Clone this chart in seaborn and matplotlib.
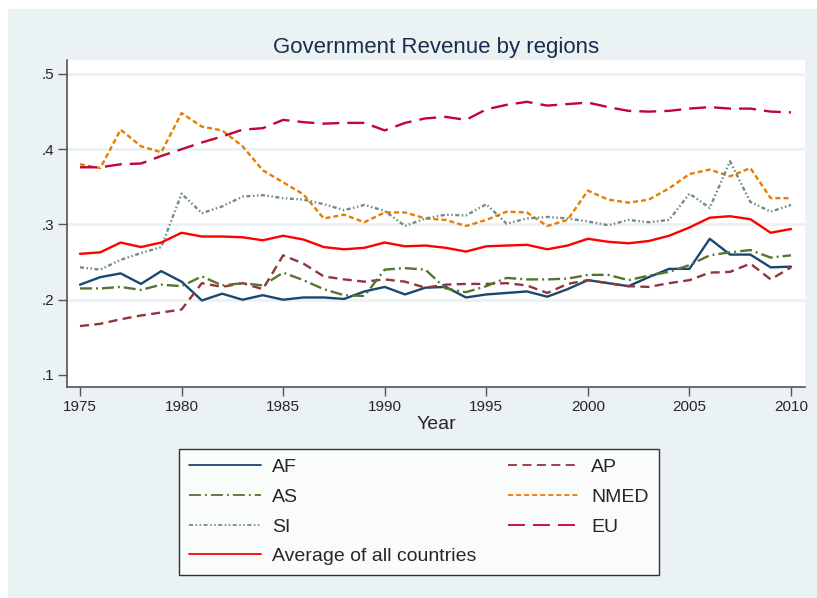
import matplotlib
matplotlib.use("Agg")
import matplotlib.pyplot as plt
from matplotlib.patches import Rectangle
from matplotlib.lines import Line2D
import seaborn as sns
import pandas as pd

# Data
years = list(range(1975, 2011))

af = [0.220, 0.230, 0.235, 0.221, 0.238, 0.224, 0.199, 0.208, 0.200, 0.206,
      0.200, 0.203, 0.203, 0.201, 0.211, 0.217, 0.207, 0.216, 0.217, 0.203,
      0.207, 0.209, 0.211, 0.204, 0.214, 0.226, 0.222, 0.218, 0.230, 0.241,
      0.241, 0.281, 0.260, 0.260, 0.243, 0.244]
ap = [0.165, 0.168, 0.174, 0.179, 0.183, 0.187, 0.222, 0.217, 0.222, 0.214,
      0.259, 0.248, 0.231, 0.227, 0.224, 0.227, 0.224, 0.216, 0.220, 0.221,
      0.221, 0.222, 0.219, 0.209, 0.221, 0.226, 0.222, 0.218, 0.217, 0.222,
      0.226, 0.236, 0.237, 0.248, 0.227, 0.243]
as_ = [0.215, 0.215, 0.217, 0.213, 0.220, 0.218, 0.231, 0.219, 0.222, 0.219,
       0.236, 0.226, 0.214, 0.206, 0.205, 0.240, 0.242, 0.240, 0.215, 0.210,
       0.218, 0.229, 0.227, 0.227, 0.228, 0.233, 0.233, 0.226, 0.232, 0.237,
       0.246, 0.259, 0.263, 0.266, 0.256, 0.259]
nmed = [0.380, 0.375, 0.426, 0.404, 0.396, 0.448, 0.430, 0.425, 0.404, 0.372,
        0.356, 0.340, 0.308, 0.313, 0.303, 0.316, 0.316, 0.308, 0.306, 0.298,
        0.306, 0.317, 0.316, 0.298, 0.306, 0.345, 0.333, 0.329, 0.333, 0.348,
        0.367, 0.373, 0.364, 0.375, 0.335, 0.335]
si = [0.243, 0.240, 0.253, 0.262, 0.270, 0.341, 0.315, 0.324, 0.337, 0.339,
      0.335, 0.333, 0.327, 0.319, 0.326, 0.318, 0.298, 0.308, 0.313, 0.312,
      0.327, 0.301, 0.308, 0.310, 0.308, 0.304, 0.299, 0.306, 0.303, 0.306,
      0.341, 0.322, 0.384, 0.330, 0.317, 0.326]
eu = [0.376, 0.376, 0.380, 0.381, 0.391, 0.400, 0.409, 0.417, 0.426, 0.428,
      0.439, 0.436, 0.434, 0.435, 0.435, 0.425, 0.435, 0.441, 0.443, 0.439,
      0.453, 0.459, 0.463, 0.458, 0.460, 0.462, 0.456, 0.451, 0.450, 0.451,
      0.454, 0.456, 0.454, 0.454, 0.450, 0.449]
avg = [0.261, 0.263, 0.276, 0.270, 0.276, 0.289, 0.284, 0.284, 0.283, 0.279,
       0.285, 0.280, 0.270, 0.267, 0.269, 0.276, 0.271, 0.272, 0.269, 0.264,
       0.271, 0.272, 0.273, 0.267, 0.272, 0.281, 0.277, 0.275, 0.278, 0.285,
       0.296, 0.309, 0.311, 0.307, 0.289, 0.294]

regions = ["AF", "AP", "AS", "NMED", "SI", "EU", "Average of all countries"]
values = [af, ap, as_, nmed, si, eu, avg]
colors = ["#1a476f", "#90353b", "#55752f", "#e37e00", "#6e8e84", "#c10534", "#ff0000"]
# dash patterns in points
dash_styles = [None, (6.5, 3.9), (8.6, 2.9, 1.4, 2.9), (3.6, 2.2),
               (2.9, 1.8, 1.1, 1.8, 1.1, 1.8), (12.2, 5.8), None]

yticks = [0.1, 0.2, 0.3, 0.4, 0.5]
ytick_labels = [".1", ".2", ".3", ".4", ".5"]
xticks = [1975, 1980, 1985, 1990, 1995, 2000, 2005, 2010]

sns.set_style("white")
plt.rcParams['font.family'] = ['Liberation Sans', 'DejaVu Sans']
plt.rcParams['lines.scale_dashes'] = False

bg = "#eaf2f3"
fig = plt.figure(figsize=(8.17, 5.98), dpi=100, facecolor="white")
fig.patches.append(Rectangle((8 / 817, 0), 1, (598 - 9) / 598, transform=fig.transFigure,
                             facecolor=bg, edgecolor="none", zorder=-10))

ax = fig.add_axes([67 / 817, 1 - 387 / 598, (805 - 67) / 817, (387 - 60) / 598])
ax.set_facecolor("white")

for yv in yticks[1:]:
    ax.axhline(yv, color=bg, lw=2, zorder=0)

df = pd.DataFrame({"Year": years})
for name, vals, col, ds in zip(regions, values, colors, dash_styles):
    df[name] = vals
    sns.lineplot(x=df["Year"], y=df[name], color=col, lw=1.7, ax=ax)
    line = ax.lines[-1]
    if ds is not None:
        line.set_dashes(ds)

ax.set_xlim(1974.36, 2010.69)
ax.set_ylim(0.084, 0.5186)
ax.set_xticks(xticks)
ax.set_xticklabels([str(x) for x in xticks], fontsize=11)
ax.set_yticks(yticks)
ax.set_yticklabels(ytick_labels, fontsize=11)
ax.tick_params(axis="both", direction="out", length=6.5, width=1, color="#555555", pad=3,
               left=True, bottom=True)

for s in ["top", "right"]:
    ax.spines[s].set_visible(False)
for s in ["left", "bottom"]:
    ax.spines[s].set_color("#555555")
    ax.spines[s].set_linewidth(1.2)

ax.set_xlabel("Year", fontsize=14, labelpad=1)
ax.set_ylabel("")
ax.set_title("Government Revenue by regions", fontsize=16, color="#1c2b4f", pad=5)

# legend, filled column-wise: AF, AS, SI, Avg | AP, NMED, EU
order = [0, 2, 4, 6, 1, 3, 5]
handles = []
for i in order:
    h = Line2D([], [], color=colors[i], lw=1.3)
    if dash_styles[i] is not None:
        h.set_dashes(dash_styles[i])
    handles.append(h)
leg = fig.legend(handles, [regions[i] for i in order], ncol=2, loc="lower left",
                 bbox_to_anchor=(179 / 817, 23 / 598), borderaxespad=0, fontsize=14,
                 frameon=True, fancybox=False, edgecolor="black", handlelength=3.7,
                 handletextpad=0.6, columnspacing=1.6, labelspacing=0.62, borderpad=0.5)
leg.get_frame().set_linewidth(1.0)

fig.savefig("out.png", dpi=100, facecolor=fig.get_facecolor())
